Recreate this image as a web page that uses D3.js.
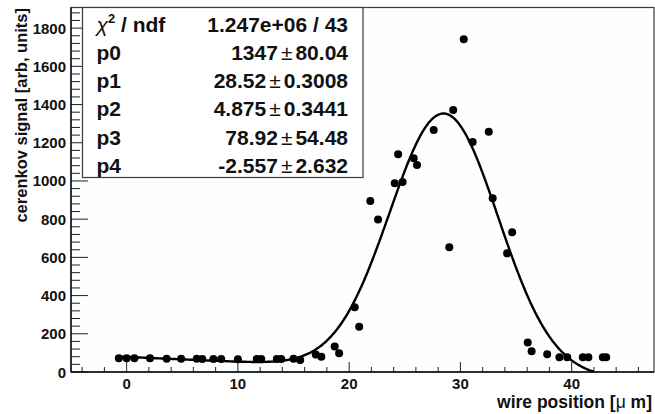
<!DOCTYPE html>
<html>
<head>
<meta charset="utf-8">
<script src="https://cdn.jsdelivr.net/npm/d3@7"></script>
<style>
  html, body { margin: 0; padding: 0; background: #ffffff; }
  svg { display: block; }
  text { font-family: "Liberation Sans", Arial, Helvetica, sans-serif; fill: #111; }
</style>
</head>
<body>
<svg id="chart" width="655" height="414"></svg>
<script>
// Wire scan: position of the wire vs. Cherenkov signal
const wirePosition = [
  -0.7, 0.0, 0.7, 2.1, 3.6, 4.9, 6.3, 6.8, 7.8, 8.5,
  10.0, 11.7, 12.1, 13.5, 13.9, 15.0, 15.6, 17.0, 17.5, 18.7,
  19.1, 20.5, 20.9, 21.9, 22.6, 24.1, 24.4, 24.8, 25.8, 26.1,
  27.6, 29.0, 29.35, 30.3, 31.1, 32.55, 32.9, 34.2, 34.65, 36.05,
  36.4, 37.8, 38.9, 39.6, 41.0, 41.5, 42.8, 43.1
];
const cerenkovSignal = [
  72, 72, 72, 72, 70, 70, 70, 68, 68, 68,
  67, 68, 68, 68, 68, 70, 63, 92, 80, 133,
  98, 339, 237, 895, 798, 988, 1140, 995, 1119, 1084,
  1267, 653, 1372, 1742, 1204, 1258, 909, 621, 731, 155,
  108, 93, 77, 77, 77, 77, 77, 77
];

// Fit: gaussian (p0, p1, p2) on top of a linear background (p3, p4)
const fitNames  = ["p0", "p1", "p2", "p3", "p4"];
const fitValues = [1347, 28.52, 4.875, 78.92, -2.557];
const fitErrors = ["80.04", "0.3008", "0.3441", "54.48", "2.632"];
const fitLabels = ["1347", "28.52", "4.875", "78.92", "-2.557"];
const chi2Text = "1.247e+06 / 43";

const xDomain = [-5, 47.4];
const yDomain = [0, 1908];
const xMajorTicks = [0, 10, 20, 30, 40];
const yMajorTicks = [0, 200, 400, 600, 800, 1000, 1200, 1400, 1600, 1800];

const svg = d3.select("#chart");
const frame = { left: 71, right: 654, top: 7.5, bottom: 372 };

const x = d3.scaleLinear().domain(xDomain).range([frame.left, frame.right]);
const y = d3.scaleLinear().domain(yDomain).range([frame.bottom, frame.top]);

// frame
svg.append("rect")
  .attr("x", frame.left).attr("y", frame.top)
  .attr("width", frame.right - frame.left).attr("height", frame.bottom - frame.top)
  .attr("fill", "#fdfeff").attr("stroke", "#3a3a3a").attr("stroke-width", 1.2);

// y axis ticks (inside the frame)
const yMinor = d3.range(0, yDomain[1], 40).filter(v => v % 200 !== 0);
const yAxis = svg.append("g");
yAxis.selectAll("line.minor").data(yMinor).join("line")
  .attr("x1", frame.left).attr("x2", frame.left + 9)
  .attr("y1", d => y(d)).attr("y2", d => y(d))
  .attr("stroke", "#222").attr("stroke-width", 1);
yAxis.selectAll("line.major").data(yMajorTicks).join("line")
  .attr("x1", frame.left).attr("x2", frame.left + 17)
  .attr("y1", d => y(d)).attr("y2", d => y(d))
  .attr("stroke", "#222").attr("stroke-width", 1);
yAxis.selectAll("text").data(yMajorTicks).join("text")
  .attr("x", 66).attr("y", d => y(d) + 5.5)
  .attr("text-anchor", "end")
  .attr("font-size", 15).attr("font-weight", "bold")
  .text(d => d);

// x axis ticks (inside the frame)
const xMinor = d3.range(-4, xDomain[1], 2).filter(v => v % 10 !== 0);
const xAxis = svg.append("g");
xAxis.selectAll("line.minor").data(xMinor).join("line")
  .attr("x1", d => x(d)).attr("x2", d => x(d))
  .attr("y1", frame.bottom).attr("y2", frame.bottom - 5)
  .attr("stroke", "#222").attr("stroke-width", 1);
xAxis.selectAll("line.major").data(xMajorTicks).join("line")
  .attr("x1", d => x(d)).attr("x2", d => x(d))
  .attr("y1", frame.bottom).attr("y2", frame.bottom - 10)
  .attr("stroke", "#222").attr("stroke-width", 1);
xAxis.selectAll("text").data(xMajorTicks).join("text")
  .attr("x", d => x(d)).attr("y", 388.5)
  .attr("text-anchor", "middle")
  .attr("font-size", 15).attr("font-weight", "bold")
  .text(d => d);

// axis lines
svg.append("line").attr("x1", frame.left).attr("x2", frame.left)
  .attr("y1", frame.top).attr("y2", frame.bottom).attr("stroke", "#111").attr("stroke-width", 1.4);
svg.append("line").attr("x1", frame.left).attr("x2", frame.right)
  .attr("y1", frame.bottom).attr("y2", frame.bottom).attr("stroke", "#111").attr("stroke-width", 1.4);

// axis titles
const xTitle = svg.append("text")
  .attr("x", 652).attr("y", 408)
  .attr("text-anchor", "end")
  .attr("font-size", 17.5).attr("font-weight", "bold");
xTitle.append("tspan").text("wire position [");
xTitle.append("tspan").attr("font-weight", "normal").text("\u03bc");
xTitle.append("tspan").text(" m]");

svg.append("text")
  .attr("transform", "translate(27,8) rotate(-90)")
  .attr("text-anchor", "end")
  .attr("font-size", 16.5).attr("font-weight", "bold")
  .text("cerenkov signal [arb, units]");

// fitted curve
const [p0, p1, p2, p3, p4] = fitValues;
const fitFn = t => p0 * Math.exp(-0.5 * Math.pow((t - p1) / p2, 2)) + p3 + p4 * t;
const xMin = d3.min(wirePosition), xMax = d3.max(wirePosition);
const curvePts = d3.range(0, 401).map(i => {
  const t = xMin + (xMax - xMin) * i / 400;
  return [t, fitFn(t)];
});

svg.append("clipPath").attr("id", "plotClip")
  .append("rect").attr("x", frame.left).attr("y", frame.top)
  .attr("width", frame.right - frame.left).attr("height", frame.bottom - frame.top);

svg.append("path")
  .attr("clip-path", "url(#plotClip)")
  .datum(curvePts.filter(d => d[1] >= 0))
  .attr("fill", "none").attr("stroke", "#000").attr("stroke-width", 2.4)
  .attr("d", d3.line().x(d => x(d[0])).y(d => y(d[1])));

// data points
svg.append("g").selectAll("circle")
  .data(wirePosition.map((d, i) => [d, cerenkovSignal[i]]))
  .join("circle")
  .attr("cx", d => x(d[0])).attr("cy", d => y(d[1]))
  .attr("r", 4).attr("fill", "#000");

// statistics box
const box = { x: 82.5, y: 7.5, w: 280.5, h: 170 };
svg.append("rect")
  .attr("x", box.x).attr("y", box.y).attr("width", box.w).attr("height", box.h)
  .attr("fill", "#fff").attr("stroke", "#3a3a3a").attr("stroke-width", 1.2);

const rowBase = 31.5, rowStep = 28.3, labelX = 96.5, valueX = 348;
const chiLabel = svg.append("text")
  .attr("x", labelX).attr("y", rowBase)
  .attr("font-size", 21).attr("font-weight", "bold");
chiLabel.append("tspan").attr("font-weight", "normal").attr("font-style", "italic").text("\u03c7");
chiLabel.append("tspan").attr("font-size", 13).attr("dy", -9).text("2");
chiLabel.append("tspan").attr("dy", 9).text(" / ndf");
svg.append("text")
  .attr("x", valueX).attr("y", rowBase)
  .attr("text-anchor", "end")
  .attr("font-size", 21).attr("font-weight", "bold")
  .text(chi2Text);

fitNames.forEach((name, i) => {
  const yy = rowBase + rowStep * (i + 1);
  svg.append("text")
    .attr("x", labelX).attr("y", yy)
    .attr("font-size", 21).attr("font-weight", "bold")
    .text(name);
  const v = svg.append("text")
    .attr("x", valueX).attr("y", yy)
    .attr("text-anchor", "end")
    .attr("font-size", 21).attr("font-weight", "bold");
  v.append("tspan").text(fitLabels[i]);
  v.append("tspan").attr("dx", 3).attr("font-weight", "normal").text("\u00b1");
  v.append("tspan").attr("dx", 3).text(fitErrors[i]);
});
</script>
</body>
</html>
